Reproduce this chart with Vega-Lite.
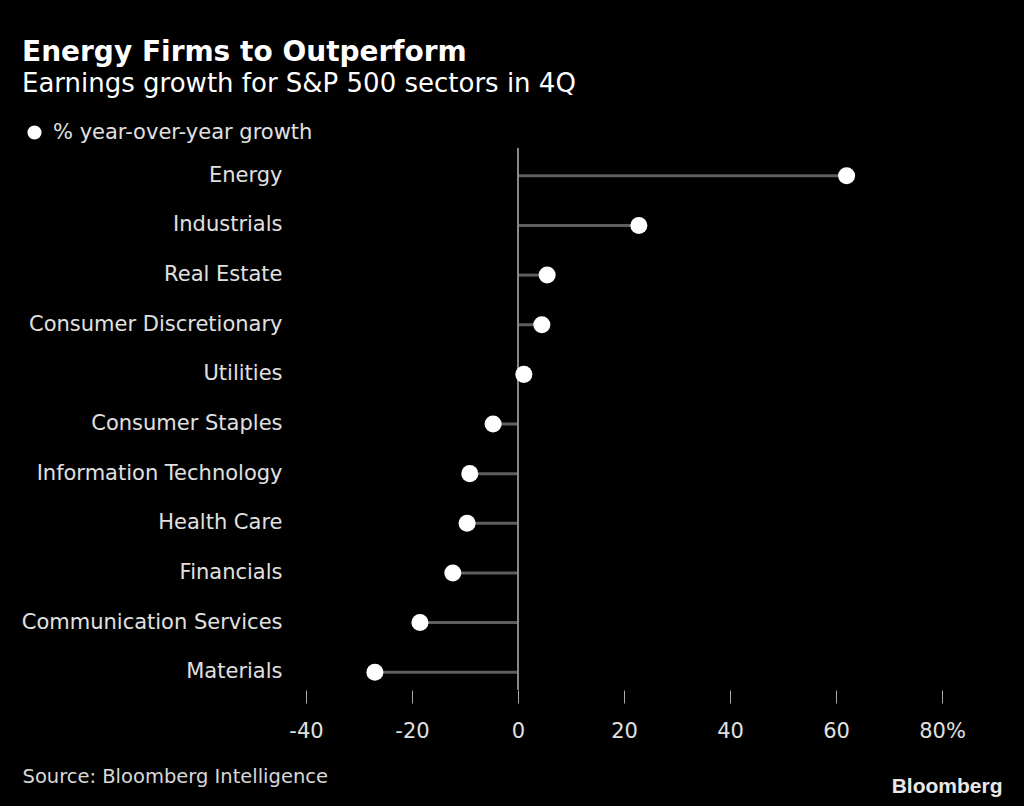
{
  "$schema": "https://vega.github.io/schema/vega-lite/v6.json",
  "autosize": {"type": "none"},
  "width": 636,
  "height": 542,
  "padding": {"left": 306, "top": 148, "right": 82, "bottom": 116},
  "background": "#000000",
  "title": {
    "text": "Energy Firms to Outperform",
    "subtitle": "Earnings growth for S&P 500 sectors in 4Q",
    "anchor": "start",
    "frame": "group",
    "dx": -284,
    "offset": 25,
    "font": "DejaVu Sans",
    "fontSize": 28,
    "fontWeight": "bold",
    "color": "#ffffff",
    "subtitleFont": "DejaVu Sans",
    "subtitleFontSize": 26,
    "subtitleColor": "#ffffff",
    "subtitlePadding": 4
  },
  "data": {
    "values": [
      {"sector": "Energy", "growth": 62, "base": 0},
      {"sector": "Industrials", "growth": 22.8, "base": 0},
      {"sector": "Real Estate", "growth": 5.5, "base": 0},
      {"sector": "Consumer Discretionary", "growth": 4.5, "base": 0},
      {"sector": "Utilities", "growth": 1.1, "base": 0},
      {"sector": "Consumer Staples", "growth": -4.7, "base": 0},
      {"sector": "Information Technology", "growth": -9.1, "base": 0},
      {"sector": "Health Care", "growth": -9.6, "base": 0},
      {"sector": "Financials", "growth": -12.3, "base": 0},
      {"sector": "Communication Services", "growth": -18.5, "base": 0},
      {"sector": "Materials", "growth": -27, "base": 0}
    ]
  },
  "config": {
    "view": {"stroke": null},
    "font": "DejaVu Sans"
  },
  "layer": [
    {
      "mark": {"type": "rule", "color": "#5e5e5e", "strokeWidth": 3},
      "encoding": {
        "y": {
          "field": "sector",
          "type": "nominal",
          "sort": null,
          "scale": {"paddingInner": 0, "paddingOuter": 0, "range": [3, 549]},
          "axis": {
            "title": "Bloomberg",
            "titleAngle": 0,
            "titleAlign": "right",
            "titleBaseline": "bottom",
            "titleX": 696,
            "titleY": 648,
            "titleFont": "Liberation Sans",
            "titleFontSize": 21,
            "titleFontWeight": "bold",
            "titleColor": "#e8e8e8",
            "ticks": false,
            "domain": false,
            "labelPadding": 24,
            "labelFontSize": 21,
            "labelLimit": 0,
            "labelColor": "#e0e0e0"
          }
        },
        "x": {
          "field": "growth",
          "type": "quantitative",
          "scale": {"domain": [-40, 80], "nice": false},
          "axis": {
            "title": "Source: Bloomberg Intelligence",
            "titleAnchor": "start",
            "titleAlign": "left",
            "titleX": -284,
            "titleY": 77,
            "titleFontSize": 19.5,
            "titleFontWeight": "normal",
            "titleColor": "#d8d8d8",
            "values": [-40, -20, 0, 20, 40, 60, 80],
            "labelExpr": "datum.value == 80 ? '80%' : '' + datum.value",
            "labelFlush": false,
            "grid": false,
            "domain": false,
            "tickSize": 13,
            "tickColor": "#aaaaaa",
            "tickWidth": 1,
            "labelPadding": 17,
            "labelFontSize": 21,
            "labelColor": "#e0e0e0"
          }
        },
        "x2": {"field": "base"}
      }
    },
    {
      "mark": {"type": "rule", "color": "#888888", "strokeWidth": 2},
      "encoding": {"x": {"field": "base", "type": "quantitative"}}
    },
    {
      "mark": {"type": "point", "filled": true, "opacity": 1, "size": 290, "shape": "circle"},
      "encoding": {
        "y": {"field": "sector", "type": "nominal", "sort": null},
        "x": {"field": "growth", "type": "quantitative"},
        "color": {
          "datum": "% year-over-year growth",
          "type": "nominal",
          "scale": {"range": ["#ffffff"]},
          "legend": {
            "title": null,
            "orient": "none",
            "legendX": -282,
            "legendY": -26,
            "symbolType": "circle",
            "symbolSize": 200,
            "symbolOpacity": 1,
            "labelFontSize": 21,
            "labelLimit": 0,
            "labelColor": "#e0e0e0",
            "labelOffset": 8
          }
        }
      }
    }
  ]
}
